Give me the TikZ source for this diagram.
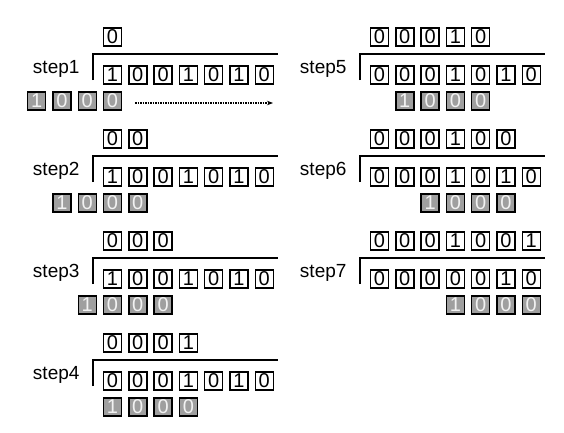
\documentclass[tikz,border=0pt]{standalone}
\usepackage{fontspec}
\setmainfont{Liberation Sans}
\usetikzlibrary{arrows.meta}

\begin{document}
\begin{tikzpicture}[x=1pt,y=-1pt,
    bit/.style={draw,line width=1.4pt,
      minimum width=18pt,minimum height=18pt,inner sep=0pt,
      font=\fontsize{20}{20}\selectfont},
    divbit/.style={bit,fill=gray!75,text=gray!10},
    steplabel/.style={anchor=base east,font=\fontsize{19}{19}\selectfont}]

  \useasboundingbox (0,0) rectangle (564,432);

  \foreach \s/\xo/\yo/\quo/\dvd/\off in {
      1/112.5/0/{0}/{1,0,0,1,0,1,0}/-3,
      2/112.5/102/{0,0}/{1,0,0,1,0,1,0}/-2,
      3/112.5/204/{0,0,0}/{1,0,0,1,0,1,0}/-1,
      4/112.5/306/{0,0,0,1}/{0,0,0,1,0,1,0}/0,
      5/379.5/0/{0,0,0,1,0}/{0,0,0,1,0,1,0}/1,
      6/379.5/102/{0,0,0,1,0,0}/{0,0,0,1,0,1,0}/2,
      7/379.5/204/{0,0,0,1,0,0,1}/{0,0,0,0,0,1,0}/3}{
    \begin{scope}[shift={(\xo,\yo)}]
      \node[steplabel] (step\s) at (-29.5,73) {step\s};
      % quotient, dividend, divisor
      \foreach \b [count=\k from 0] in \quo
        \node[bit] (q\s-\k) at (25.3*\k,37) {\b};
      \foreach \b [count=\k from 0] in \dvd
        \node[bit] (d\s-\k) at (25.3*\k,75) {\b};
      \foreach \b [count=\k from 0] in {1,0,0,0}
        \node[divbit] (v\s-\k) at (25.3*\k+25.3*\off,101) {\b};
      % bracket
      \coordinate (bot\s) at (-19.5,80);
      \coordinate (top\s) at (-19.5,54);
      \coordinate (end\s) at (165.5,54);
      \draw[line width=1.1pt] (bot\s) -- (top\s) -- (end\s);
    \end{scope}}

  \coordinate (tip) at (273,103);
  \draw[densely dotted,line width=1.5pt,-{Stealth[length=6pt]}]
    ([xshift=13pt,yshift=-2pt]v1-3.east) -- (tip);

\end{tikzpicture}
\end{document}
